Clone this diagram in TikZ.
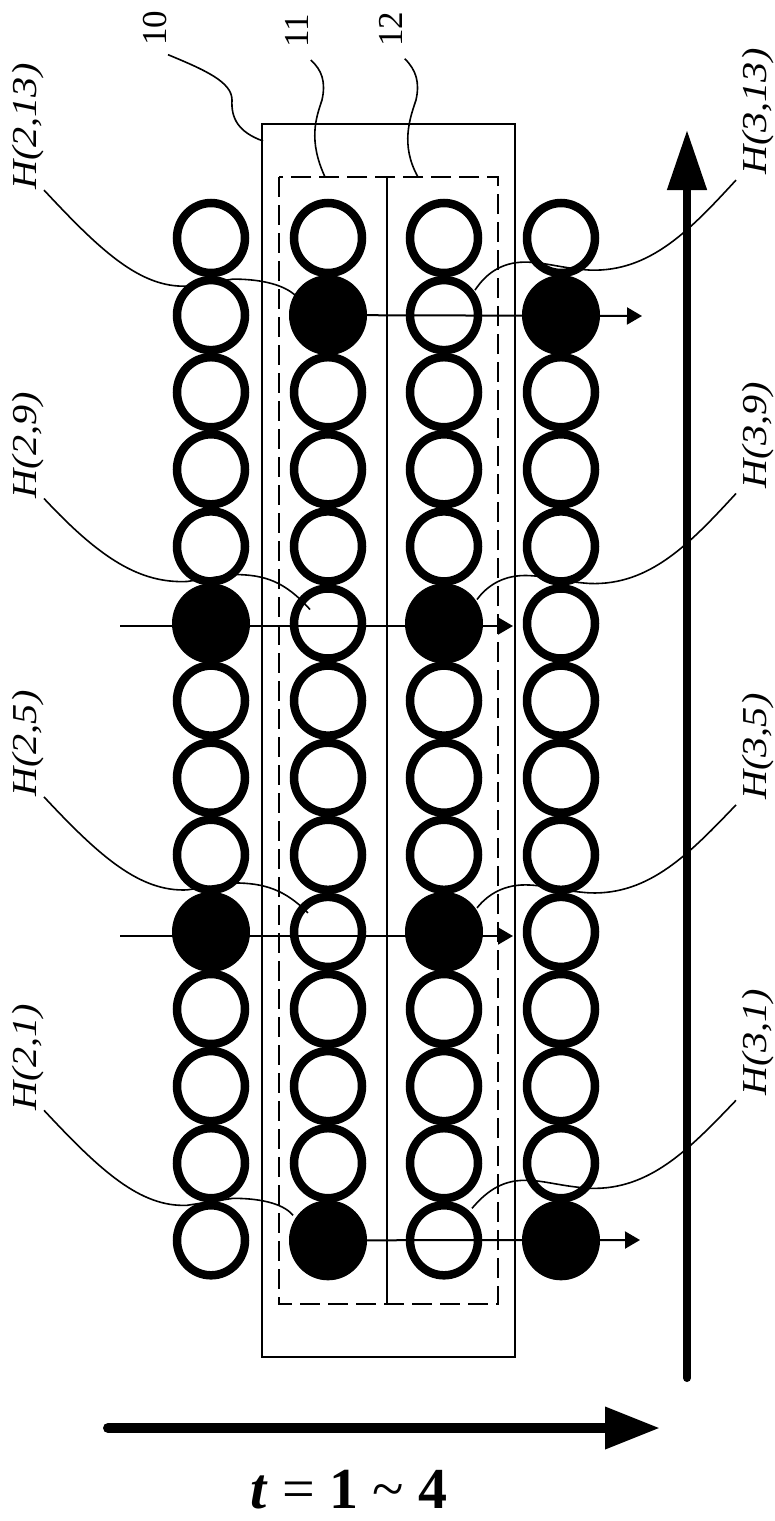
\documentclass[tikz,border=0pt]{standalone}
\usepackage{fontspec}
\setmainfont{Liberation Serif}
\usetikzlibrary{arrows.meta,shapes.geometric,calc}
\begin{document}
\begin{tikzpicture}[x=1pt,y=-1pt,
  ring/.style={ellipse,draw=black,line width=8.5pt,minimum width=68pt,minimum height=70pt,inner sep=0pt,outer sep=0pt},
  dot/.style={ellipse,fill=black,draw=black,line width=1pt,minimum width=77pt,minimum height=79pt,inner sep=0pt,outer sep=0pt},
  lead/.style={line width=1.6pt},
  hlab/.style={font=\fontsize{35}{35}\selectfont\itshape,rotate=90,xscale=1.15,inner sep=0pt},
  numlab/.style={font=\fontsize{35}{35}\selectfont,rotate=90,inner sep=0pt},
  thinarrow/.style={line width=2pt,-{Triangle[length=15pt,width=17pt]}},
  bigarrow/.style={line cap=round,-{Triangle[length=60pt,width=38pt]}},
]
\fill[white] (0,0) rectangle (775,1521);
\useasboundingbox (0,0) rectangle (775,1521);

% frames
\draw[line width=1.8pt] (262,124) rectangle (515,1357);
\draw[line width=2.4pt,dash pattern=on 20pt off 8pt] (279,177) rectangle (498,1304);
\draw[line width=1.8pt] (387,177) -- (387,1304);

% circles
\foreach \c/\x/\fa/\fb in {1/211/9/5, 2/328/13/1, 3/444/9/5, 4/561/13/1} {
  \foreach \k in {1,...,14} {
    \pgfmathtruncatemacro\isf{(\k==\fa)||(\k==\fb)}
    \pgfmathsetmacro\yy{238+(14-\k)*77.1}
    \ifnum\isf=1
      \node[dot] (c\c-\k) at (\x,\yy) {};
    \else
      \node[ring] (c\c-\k) at (\x,\yy) {};
    \fi
  }
}

% thin arrows
\coordinate (tA) at (642,316);
\coordinate (tB) at (640,1240);
\coordinate (s9) at (120,626);
\coordinate (t9) at (513,626);
\coordinate (s5) at (120,936);
\coordinate (t5) at (513,936);
\draw[thinarrow] (c2-13.center) -- (tA);
\draw[thinarrow] (c2-1.center) -- (tB);
\draw[thinarrow] (s9) -- (t9);
\draw[thinarrow] (s5) -- (t5);

% big arrows
\coordinate (vs) at (687,1378);
\coordinate (vt) at (687,130);
\coordinate (hs) at (108,1428);
\coordinate (ht) at (660,1428);
\draw[bigarrow,line width=8pt] (vs) -- (vt);
\draw[bigarrow,line width=10pt,-{Triangle[length=55pt,width=40pt]}] (hs) -- (ht);

% number labels
\node[numlab] (l10) at (155,28) {10};
\node[numlab] (l11) at (297,31) {11};
\node[numlab] (l12) at (391,29) {12};
\draw[lead] ($(l10.south west)+(1,9)$) .. controls (205,70) and (232,82) .. (232,100)
  .. controls (231,118) and (238,132) .. (263,141);
\draw[lead] ($(l11.south west)+(2,12)$) .. controls (322,70) and (326,82) .. (322,100)
  .. controls (316,118) and (308,140) .. (325,177);
\draw[lead] ($(l12.south west)+(2,12)$) .. controls (416,70) and (420,82) .. (416,100)
  .. controls (410,118) and (400,145) .. (418,177);

% left H labels
\foreach \k/\txt/\s/\m/\ex/\ey in {13/{H(2,13)}/-123/-29/-33/-20, 9/{H(2,9)}/-123/-42/-18/-14, 5/{H(2,5)}/-133/-42/-20/-19, 1/{H(2,1)}/-128/-35/-35/-25} {
  \pgfmathsetmacro\yy{238+(14-\k)*77.1}
  \node[hlab,anchor=south west] (hl\k) at (44,\yy+\s-2) {\txt};
  \draw[lead] (hl\k.south west) .. controls (100,\yy+\s+58) and (140,\yy+\m+2) .. (187,\yy+\m)
     -- (233,\yy+\m-7) .. controls (265,\yy+\m-7) and (285,\yy+\m) .. ($(c2-\k)+(\ex,\ey)$);
}

% right H labels
\foreach \k/\txt/\s/\m/\ex/\ey in {13/{H(3,13)}/-135/-45/31/-25, 9/{H(3,9)}/-130/-40/33/-24, 5/{H(3,5)}/-127/-39/33/-24, 1/{H(3,1)}/-140/-52/28/-32} {
  \pgfmathsetmacro\yy{238+(14-\k)*77.1}
  \node[hlab,anchor=north west] (hr\k) at (742,\yy+\s-5) {\txt};
  \draw[lead] ($(hr\k.north west)+(-6,5)$) .. controls (690,\yy+\m-40) and (650,\yy+\m+2) .. (590,\yy+\m)
     .. controls (560,\yy+\m-2) and (545,\yy+\m-8) .. (525,\yy+\m-8)
     .. controls (500,\yy+\m-8) and (485,\yy+\m+5) .. ($(c3-\k)+(\ex,\ey)$);
}

% time label
\node[font=\fontsize{58}{58}\selectfont,anchor=base,inner sep=0pt] (tlab) at (349,1508) {\textbf{\textit{t}} = \textbf{1} \textasciitilde\ \textbf{4}};
\end{tikzpicture}
\end{document}
